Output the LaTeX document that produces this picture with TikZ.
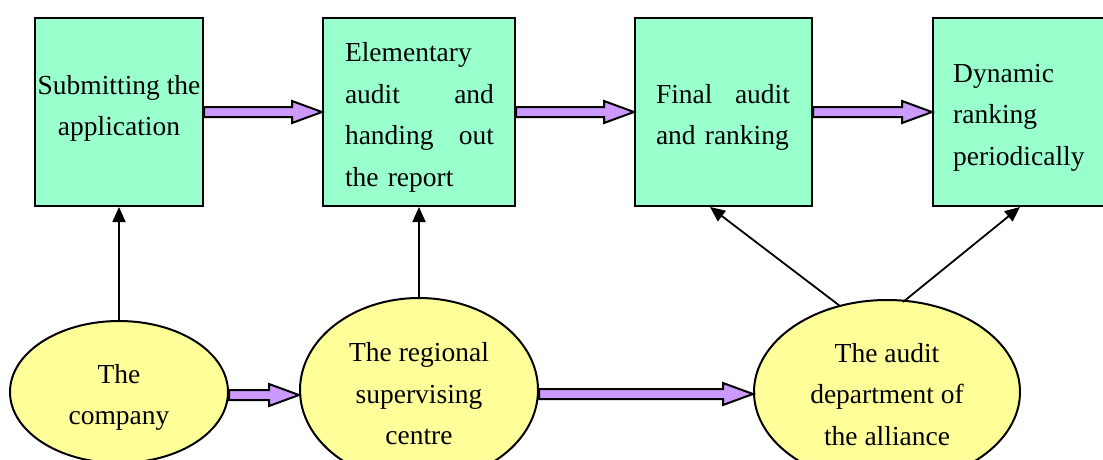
\documentclass[tikz,border=0pt]{standalone}
\usepackage{fontspec}
\setmainfont{Liberation Serif}
\usetikzlibrary{shapes.geometric,arrows.meta,calc}
\definecolor{boxgreen}{HTML}{99FFCC}
\definecolor{ellyellow}{HTML}{FFFF99}
\definecolor{arrpurple}{HTML}{CC99FF}
\newcommand\fatarr[2]{%
  \draw[fatarrow] let \p1=(#1), \p2=(#2) in
    (\x1,\y1+5pt) -- (\x2-30pt,\y1+5pt) -- (\x2-30pt,\y1+11pt) -- (\x2,\y1)
    -- (\x2-30pt,\y1-11pt) -- (\x2-30pt,\y1-5pt) -- (\x1,\y1-5pt) -- cycle;}
\begin{document}
\begin{tikzpicture}[x=1pt,y=-1pt,
  box/.style={draw=black,line width=2pt,fill=boxgreen,rectangle,inner sep=0pt},
  ell/.style={draw=black,line width=2pt,fill=ellyellow,ellipse,inner sep=0pt},
  txt/.style={inner sep=0pt},
  fatarrow/.style={draw=black,line width=2pt,fill=arrpurple,line join=miter},
  thin/.style={draw=black,line width=1.8pt,-{Triangle[length=15pt,width=13pt]}},
  font=\fontsize{27.5}{41.5}\selectfont]
\useasboundingbox (0,0) rectangle (1103,459);
\clip (0,0) rectangle (1103,459);
% boxes
\node[box,minimum width=168pt,minimum height=188pt] (b1) at (119,112) {};
\node[box,minimum width=192pt,minimum height=188pt] (b2) at (419,112) {};
\node[box,minimum width=177pt,minimum height=188pt] (b3) at (723.5,112) {};
\node[box,minimum width=190pt,minimum height=188pt,anchor=west] (b4) at (932,112) {};
\node[txt,align=center] (t1) at (119,108.5) {Submitting the\\application};
\node[txt,text width=149pt,align=left] (t2) at (419.5,117.5)
  {Elementary\\audit\hfill and\\handing\hfill out\\the report};
\node[txt,text width=134pt,align=left] (t3) at (723,117.5)
  {Final\hfill audit\\and ranking};
\node[txt,align=left,anchor=west] (t4) at (953,117.5) {Dynamic\\ranking\\periodically};
% ellipses
\node[ell,minimum width=218pt,minimum height=142pt] (e1) at (119,392) {};
\node[ell,minimum width=238pt,minimum height=184pt] (e2) at (419,390) {};
\node[ell,minimum width=266pt,minimum height=184pt] (e3) at (887,392) {};
\node[txt,align=center] (te1) at (119,397.5) {The\\company};
\node[txt,align=center] (te2) at (419,394) {The regional\\supervising\\centre};
\node[txt,align=center] (te3) at (887,394.5) {The audit\\department of\\the alliance};
% fat arrows
\fatarr{b1.east}{b2.west}
\fatarr{b2.east}{b3.west}
\fatarr{b3.east}{b4.west}
\fatarr{$(e1.east)+(0,3)$}{e2.west}
\fatarr{$(e2.east)+(0,4)$}{e3.west}
% thin arrows
\draw[thin] (e1.north) -- (b1.south);
\draw[thin] (e2.north) -- (b2.south);
\coordinate (s3a) at (840,306);
\coordinate (s3b) at (903,302);
\draw[thin] (s3a) -- (b3.south west -| 710,0);
\draw[thin] (s3b) -- (b4.south west -| 1020,0);
\end{tikzpicture}
\end{document}
